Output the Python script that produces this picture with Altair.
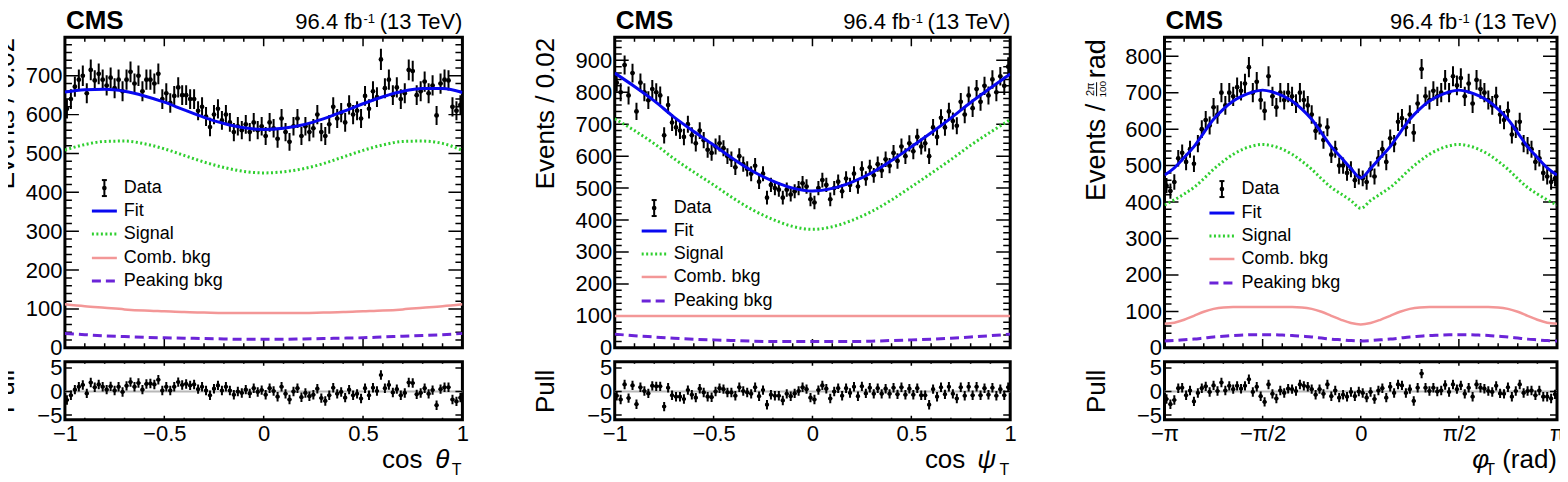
import numpy as np
import pandas as pd
import altair as alt

FONT = "Liberation Sans"
ONE = pd.DataFrame({"k": [0]})

# ---------------- cos theta_T ----------------
THETA_COUNTS = [615, 640, 672, 690, 700, 655, 715, 688, 705, 690,
                675, 695, 668, 690, 660, 690, 710, 680, 700, 660,
                690, 690, 680, 705, 640, 655, 630, 648, 670, 650,
                650, 640, 640, 610, 620, 595, 568, 600, 615, 585,
                600, 580, 555, 570, 560, 575, 555, 580, 560, 570,
                545, 580, 565, 538, 590, 555, 530, 570, 590, 545,
                570, 555, 565, 600, 555, 545, 575, 620, 590, 605,
                580, 625, 600, 610, 590, 648, 615, 660, 645, 742,
                668, 690, 650, 670, 640, 655, 715, 712, 650, 660,
                685, 655, 675, 598, 680, 690, 688, 620, 610, 625]
THETA_PULLS = [-1.8, -0.8, 0.4, 1.0, 1.4, -0.4, 1.9, 0.9, 1.5, 1.0,
               0.4, 1.1, 0.2, 1.0, -0.1, 1.2, 2.0, 1.0, 1.8, 0.4,
               1.6, 1.7, 1.5, 2.5, 0.2, 1.0, 0.2, 1.0, 2.0, 1.4,
               1.6, 1.3, 1.5, 0.5, 1.0, 0.2, -0.8, 0.6, 1.3, 0.2,
               1.0, 0.2, -0.7, 0.0, -0.3, 0.4, -0.4, 0.7, -0.1, 0.3,
               -0.7, 0.7, 0.1, -1.1, 1.0, -0.5, -1.7, 0.0, 0.7, -1.2,
               -0.3, -1.0, -0.7, 0.6, -1.4, -2.0, -0.8, 0.8, -0.5, -0.1,
               -1.3, 0.4, -0.8, -0.5, -1.5, 0.7, -0.8, 0.8, 0.1, 3.5,
               0.7, 1.4, -0.2, 0.5, -0.8, -0.3, 1.9, 1.8, -0.6, -0.3,
               0.7, -0.5, 0.3, -2.9, 0.5, 0.9, 0.9, -1.7, -2.1, -1.3]
THETA_FIT = [658, 664, 665, 660, 648, 632, 612, 593, 577, 566, 562,
             565, 574, 589, 608, 628, 646, 660, 667, 667, 657]
THETA_SIG = [509, 523, 531, 532, 525, 512, 495, 478, 464, 454, 450,
             453, 461, 474, 491, 508, 522, 531, 532, 526, 508]
THETA_COMB = [112, 107, 103, 99, 96, 94, 92, 91, 90, 90, 90,
              90, 90, 91, 92, 94, 96, 99, 103, 107, 112]
THETA_PEAK = [37, 34, 31, 29, 27, 26, 25, 24, 23, 22, 22,
              22, 23, 24, 25, 26, 28, 30, 32, 34, 37]

# ---------------- cos psi_T ----------------
PSI_COUNTS = [830, 800, 885, 790, 860, 740, 830, 800, 775, 810,
              800, 790, 665, 760, 705, 690, 680, 660, 700, 665,
              640, 680, 650, 620, 610, 630, 640, 625, 600, 590,
              565, 600, 575, 560, 545, 570, 520, 545, 470, 510,
              500, 495, 470, 495, 480, 490, 500, 515, 505, 465,
              455, 500, 525, 510, 465, 500, 520, 490, 530, 510,
              545, 505, 560, 530, 565, 540, 575, 555, 590, 570,
              610, 585, 630, 600, 640, 615, 660, 630, 640, 600,
              690, 660, 720, 690, 740, 710, 695, 770, 730, 790,
              750, 810, 770, 820, 790, 840, 800, 850, 820, 880]
PSI_PULLS = [-0.9, -1.7, 1.5, -1.4, 1.3, -2.7, 0.9, 0.1, -0.4, 1.2,
             1.1, 1.1, -3.2, 0.8, -0.8, -1.1, -1.1, -1.6, 0.3, -0.7,
             -1.3, 0.6, -0.2, -1.1, -1.2, 0.0, 0.7, 0.5, -0.2, -0.2,
             -0.9, 0.9, 0.1, -0.2, -0.5, 0.9, -1.0, 0.3, -2.8, -0.7,
             -0.9, -0.9, -1.9, -0.5, -1.0, -0.4, 0.1, 0.9, 0.5, -1.3,
             -1.7, 0.3, 1.3, 0.6, -1.5, 0.0, 0.7, -0.9, 0.7, -0.3,
             1.0, -1.0, 1.1, -0.4, 0.8, -0.5, 0.7, -0.5, 0.6, -0.5,
             0.8, -0.6, 0.9, -0.7, 0.6, -0.7, 0.7, -0.8, -0.8, -2.8,
             0.5, -1.1, 0.9, -0.6, 1.0, -0.5, -1.5, 0.9, -0.9, 1.0,
             -0.8, 1.0, -0.8, 0.7, -0.7, 0.8, -0.9, 0.5, -0.8, 0.9]
PSI_FIT = [860, 818, 773, 722, 677, 635, 591, 552, 522, 500, 491,
           499, 519, 548, 586, 629, 673, 719, 768, 813, 857]
PSI_SIG = [717, 680, 639, 592, 550, 510, 468, 431, 402, 380, 371,
           379, 399, 427, 463, 504, 546, 589, 634, 675, 714]
PSI_COMB = [100, 100, 100, 100, 100, 100, 100, 100, 100, 100, 100,
            100, 100, 100, 100, 100, 100, 100, 100, 100, 100]
PSI_PEAK = [43, 38, 34, 30, 27, 25, 23, 21, 20, 20, 20,
            20, 20, 21, 23, 25, 27, 30, 34, 38, 43]

# ---------------- phi_T ----------------
PHI_COUNTS = [445, 430, 455, 520, 535, 510, 545, 505, 560, 600,
              625, 610, 660, 640, 700, 665, 700, 690, 715, 705,
              725, 770, 700, 730, 680, 650, 745, 690, 660, 700,
              680, 700, 690, 670, 700, 680, 665, 640, 595, 610,
              570, 605, 530, 545, 500, 500, 480, 490, 460, 470,
              465, 455, 490, 470, 520, 545, 510, 575, 560, 620,
              630, 605, 640, 590, 670, 765, 690, 680, 705, 690,
              700, 735, 700, 745, 720, 740, 690, 725, 670, 735,
              710, 700, 680, 665, 690, 640, 625, 650, 585, 600,
              620, 560, 555, 545, 510, 520, 480, 470, 455, 465]
PHI_PULLS = [-1.6, -2.7, -1.8, 0.7, 0.8, -0.8, 0.2, -2.1, -0.3, 0.7,
             1.1, -0.1, 1.3, 0.1, 1.9, 0.2, 1.2, 0.5, 1.2, 0.6,
             1.2, 2.6, -0.1, 1.0, -1.0, -2.2, 1.5, -0.5, -1.5, 0.2,
             -0.3, 0.6, 0.5, 0.1, 1.5, 1.2, 1.0, 0.5, -0.7, 0.5,
             -0.5, 1.5, -1.0, 0.2, -1.3, -0.7, -1.1, -0.1, -1.0, 0.0,
             -0.3, -1.3, -0.1, -1.6, 0.2, 0.7, -1.3, 1.0, -0.3, 1.5,
             1.3, -0.3, 0.5, -2.0, 0.8, 3.8, 0.8, 0.1, 0.8, 0.0,
             0.2, 1.4, -0.1, 1.5, 0.5, 1.3, -0.5, 0.8, -1.1, 1.5,
             0.8, 0.6, 0.1, -0.1, 1.2, -0.4, -0.5, 0.9, -1.1, 0.1,
             1.5, -0.3, 0.1, 0.2, -0.8, 0.2, -1.1, -1.1, -1.5, -0.6]
PHI_FIT = [474, 494, 522, 552, 590, 627, 655, 677, 692, 702, 707,
           702, 692, 677, 655, 627, 590, 552, 522, 492, 466,
           492, 522, 552, 590, 627, 655, 677, 692, 702, 707,
           702, 692, 677, 655, 627, 590, 552, 522, 494, 474]
PHI_SIG = [392, 406, 422, 440, 464, 490, 512, 531, 545, 554, 558,
           554, 545, 531, 512, 490, 464, 440, 422, 404, 383,
           404, 422, 440, 464, 490, 512, 531, 545, 554, 558,
           554, 545, 531, 512, 490, 464, 440, 422, 406, 392]
PHI_COMB = [66, 69, 77, 88, 99, 107, 111, 112, 112, 112, 112,
            112, 112, 112, 111, 107, 99, 88, 77, 68, 64,
            68, 77, 88, 99, 107, 111, 112, 112, 112, 112,
            112, 112, 112, 111, 107, 99, 88, 77, 69, 66]
PHI_PEAK = [19, 20, 22, 24, 27, 30, 32, 34, 35, 36, 36,
            36, 35, 34, 32, 30, 27, 24, 22, 20, 19,
            20, 22, 24, 27, 30, 32, 34, 35, 36, 36,
            36, 35, 34, 32, 30, 27, 24, 22, 20, 19]

LEGEND_NAMES = ["Data", "Fit", "Signal", "Comb. bkg", "Peaking bkg"]

FIT_STYLE = dict(color="#0808f0", strokeWidth=3)
SIG_STYLE = dict(color="#2fcf2f", strokeWidth=3, strokeDash=[2, 2.5])
COMB_STYLE = dict(color="#f39797", strokeWidth=2.5)
PEAK_STYLE = dict(color="#6b24d8", strokeWidth=3, strokeDash=[9, 5])
CURVE_STYLES = [FIT_STYLE, SIG_STYLE, COMB_STYLE, PEAK_STYLE]

PI = np.pi
PANELS = [
    dict(W=398, xdom=[-1, 1], ymax=799, counts=THETA_COUNTS, pulls=THETA_PULLS,
         curves=[THETA_FIT, THETA_SIG, THETA_COMB, THETA_PEAK],
         xmaj=[-1, -0.5, 0, 0.5, 1],
         xmin=[-0.9, -0.8, -0.7, -0.6, -0.4, -0.3, -0.2, -0.1, 0.1, 0.2, 0.3, 0.4, 0.6, 0.7, 0.8, 0.9],
         ymaj=[0, 100, 200, 300, 400, 500, 600, 700], ytitle="Events / 0.02", titleX=-59,
         leg_x=27, leg_rows=[151, 174, 197, 221, 244], xvar="θ", cos_dx=40, var_dx=13, phi=False),
    dict(W=396, xdom=[-1, 1], ymax=972, counts=PSI_COUNTS, pulls=PSI_PULLS,
         curves=[PSI_FIT, PSI_SIG, PSI_COMB, PSI_PEAK],
         xmaj=[-1, -0.5, 0, 0.5, 1],
         xmin=[-0.9, -0.8, -0.7, -0.6, -0.4, -0.3, -0.2, -0.1, 0.1, 0.2, 0.3, 0.4, 0.6, 0.7, 0.8, 0.9],
         ymaj=[0, 100, 200, 300, 400, 500, 600, 700, 800, 900], ytitle="Events / 0.02", titleX=-69,
         leg_x=27, leg_rows=[171, 194, 217, 240, 264], xvar="ψ", cos_dx=45, var_dx=14, phi=False),
    dict(W=393, xdom=[-PI, PI], ymax=852, counts=PHI_COUNTS, pulls=PHI_PULLS,
         curves=[PHI_FIT, PHI_SIG, PHI_COMB, PHI_PEAK],
         xmaj=[-PI, -PI / 2, 0, PI / 2, PI],
         xmin=[k * PI / 10 for k in range(-9, 10) if k % 5 != 0],
         ymaj=[0, 100, 200, 300, 400, 500, 600, 700, 800], ytitle=None, titleX=-68,
         leg_x=45, leg_rows=[152, 176, 199, 222, 246], xvar="φ", cos_dx=0, var_dx=0, phi=True),
]

H_MAIN, H_PULL = 311, 58


def txt(s, x, y, size, align="left", baseline="alphabetic", weight="normal", style="normal", angle=0):
    kw = dict(align=align, baseline=baseline, fontSize=size, font=FONT,
              fontWeight=weight, fontStyle=style, color="black")
    if angle:
        kw["angle"] = angle
    return alt.Chart(ONE).mark_text(**kw).encode(x=alt.value(x), y=alt.value(y), text=alt.value(s))


def prule(x, y, x2=None, y2=None, **style):
    enc = dict(x=alt.value(x), y=alt.value(y))
    if x2 is not None:
        enc["x2"] = alt.value(x2)
    if y2 is not None:
        enc["y2"] = alt.value(y2)
    kw = dict(color="black", strokeWidth=2)
    kw.update(style)
    return alt.Chart(ONE).mark_rule(**kw).encode(**enc)


def xticks(vals, xs, xax, H, L):
    df = pd.DataFrame({"t": vals})
    return [alt.Chart(df).mark_tick(orient="vertical", size=2 * L, thickness=1.5, color="black",
                                    clip=True, opacity=1)
            .encode(x=alt.X("t:Q", scale=xs, axis=xax), y=alt.value(yp)) for yp in (0, H)]


def yticks(vals, ys, yax, W, L):
    df = pd.DataFrame({"t": vals})
    return [alt.Chart(df).mark_tick(orient="horizontal", size=2 * L, thickness=1.5, color="black",
                                    clip=True, opacity=1)
            .encode(y=alt.Y("t:Q", scale=ys, axis=yax), x=alt.value(xp)) for xp in (0, W)]


def points(df, xs, xax, ys, yax, size=20):
    X = lambda f: alt.X(f, scale=xs, axis=xax)
    Y = lambda f: alt.Y(f, scale=ys, axis=yax)
    return [
        alt.Chart(df).mark_rule(color="black", strokeWidth=2, clip=True).encode(x=X("x:Q"), y=Y("lo:Q"), y2="hi:Q"),
        alt.Chart(df).mark_rule(color="black", strokeWidth=2, clip=True).encode(x=X("xlo:Q"), x2="xhi:Q", y=Y("v:Q")),
        alt.Chart(df).mark_circle(color="black", size=size, opacity=1, clip=True).encode(x=X("x:Q"), y=Y("v:Q")),
    ]


def panel(cfg):
    W = cfg["W"]
    lo, hi = cfg["xdom"]
    edges = np.linspace(lo, hi, 101)
    centers = (edges[:-1] + edges[1:]) / 2
    d = np.array(cfg["counts"], dtype=float)
    err = np.sqrt(d)
    ddf = pd.DataFrame({"x": centers, "xlo": edges[:-1], "xhi": edges[1:], "v": d, "lo": d - err, "hi": d + err})
    p = np.array(cfg["pulls"], dtype=float)
    pdf = pd.DataFrame({"x": centers, "xlo": edges[:-1], "xhi": edges[1:], "v": p, "lo": p - 1, "hi": p + 1})
    ncur = len(cfg["curves"][0])
    cdf = pd.DataFrame({"x": np.linspace(lo, hi, ncur)})
    for name, vals in zip(["fit", "sig", "comb", "peak"], cfg["curves"]):
        cdf[name] = vals

    xs = alt.Scale(domain=[lo, hi], nice=False, zero=False)
    ys = alt.Scale(domain=[0, cfg["ymax"]], nice=False, zero=False)
    yax = alt.Axis(values=cfg["ymaj"], format="d", labelFontSize=22, labelPadding=3, ticks=False,
                   domain=False, grid=False, labelFlush=False, labelOverlap=False,
                   title=cfg["ytitle"], titleFontSize=26, titleFontWeight="normal", titleAngle=270,
                   titleAlign="right", titleBaseline="middle", titleX=cfg["titleX"], titleY=0)

    layers = []
    layers += xticks(cfg["xmaj"], xs, None, H_MAIN, 9)
    layers += xticks(cfg["xmin"], xs, None, H_MAIN, 4.5)
    ymin = [v for v in range(20, int(cfg["ymax"]), 20) if v % 100 != 0]
    layers += yticks(cfg["ymaj"], ys, yax, W, 14)
    layers += yticks(ymin, ys, yax, W, 7)
    layers += points(ddf, xs, None, ys, yax, size=22)
    for name, st in zip(["peak", "comb", "sig", "fit"], [PEAK_STYLE, COMB_STYLE, SIG_STYLE, FIT_STYLE]):
        layers.append(alt.Chart(cdf).mark_line(interpolate="monotone", clip=True, **st)
                      .encode(x=alt.X("x:Q", scale=xs, axis=None), y=alt.Y(f"{name}:Q", scale=ys, axis=yax)))

    # legend
    x0 = cfg["leg_x"]
    rows = cfg["leg_rows"]
    xc = x0 + 12.5
    yd = rows[0]
    layers += [prule(xc, yd - 8, y2=yd + 8), prule(xc - 2.5, yd - 8, x2=xc + 2.5),
               prule(xc - 2.5, yd + 8, x2=xc + 2.5),
               alt.Chart(ONE).mark_circle(color="black", size=22, opacity=1)
               .encode(x=alt.value(xc), y=alt.value(yd))]
    for st, y in zip(CURVE_STYLES, rows[1:]):
        layers.append(prule(x0, y, x2=x0 + 25, **st))
    for name, y in zip(LEGEND_NAMES, rows):
        layers.append(txt(name, x0 + 32, y, 18, baseline="middle"))

    # header
    layers += [txt("CMS", 1, -8, 26, weight="bold"),
               txt("(13 TeV)", W, -8, 22, align="right"),
               txt("-1", W - 99, -14, 13),
               txt("96.4 fb", W - 100, -8, 22, align="right")]

    if cfg["phi"]:
        tx = cfg["titleX"]
        layers += [txt("rad", tx, 2, 27, align="right", baseline="middle", angle=270),
                   txt("2π", tx - 6, 52, 11, align="center", baseline="middle", angle=270),
                   txt("100", tx + 6, 52, 10, align="center", baseline="middle", angle=270),
                   prule(tx, 45, y2=59, strokeWidth=1),
                   txt("Events /", tx, 164, 27, align="left", baseline="middle", angle=270)]

    main = alt.layer(*layers).properties(width=W, height=H_MAIN)

    # pull panel
    pys = alt.Scale(domain=[-6, 6.3], nice=False, zero=False)
    pyax = alt.Axis(values=[-5, 0, 5], format="d", labelFontSize=22, labelPadding=3, ticks=False,
                    domain=False, grid=False, labelFlush=False, labelOverlap=False,
                    title="Pull", titleFontSize=26, titleFontWeight="normal", titleAngle=270,
                    titleAlign="center", titleBaseline="middle", titleX=cfg["titleX"], titleY=H_PULL / 2)
    axkw = dict(values=cfg["xmaj"], labelFontSize=22, labelPadding=4, ticks=False, domain=False,
                grid=False, labelFlush=False, labelOverlap=False, title=None, format="~g")
    if cfg["phi"]:
        axkw["labelExpr"] = ("datum.value < -3 ? '−π' : datum.value < -1 ? '−π/2' : "
                             "datum.value < 1 ? '0' : datum.value < 3 ? 'π/2' : 'π'")
    pxax = alt.Axis(**axkw)

    pl = []
    pl.append(alt.Chart(ONE).mark_rule(color="#b8b8b8", strokeWidth=2)
              .encode(y=alt.Y("z:Q", scale=pys, axis=pyax)).transform_calculate(z="0"))
    pl += xticks(cfg["xmaj"], xs, pxax, H_PULL, 4)
    pl += xticks(cfg["xmin"], xs, pxax, H_PULL, 2)
    pl += yticks([-5, 0, 5], pys, pyax, W, 7)
    pl += points(pdf, xs, pxax, pys, pyax, size=18)
    if cfg["phi"]:
        pl += [txt("(rad)", W, 106, 26, align="right"),
               txt("φ", W - 68, 106, 26, align="right", style="italic"),
               txt("T", W - 62, 113, 16, align="right")]
    else:
        pl += [txt("cos", W - cfg["cos_dx"], 106, 26, align="right"),
               txt(cfg["xvar"], W - cfg["var_dx"], 106, 26, align="right", style="italic"),
               txt("T", W - 1, 113, 16, align="right")]
    pull = alt.layer(*pl).properties(width=W, height=H_PULL)

    return alt.vconcat(main, pull, spacing=14, bounds="flush")


p1, p2, p3 = [panel(c) for c in PANELS]
# with flush bounds a nested concat counts as zero width, so the spacing is the left-to-left offset
chart = (alt.hconcat(p1, p2, p3, spacing=550.5, bounds="flush")
         .properties(padding={"left": -17, "top": -2, "right": -7, "bottom": 0}, background="white")
         .configure_view(stroke="black", strokeWidth=3)
         .configure_axis(labelFont=FONT, titleFont=FONT, labelColor="black", titleColor="black"))

chart.save("out.html", embed_options={"renderer": "svg", "actions": False})
